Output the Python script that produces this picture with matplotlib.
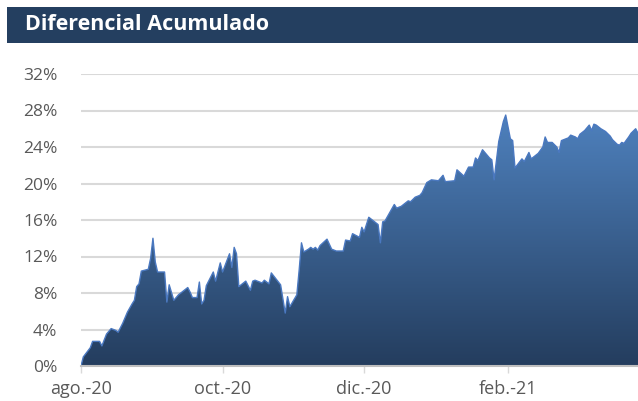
import numpy as np
import pandas as pd
import matplotlib
matplotlib.use('Agg')
import matplotlib.pyplot as plt
from matplotlib.patches import Rectangle
from matplotlib.colors import LinearSegmentedColormap

# dias desde el 1 de agosto de 2020
dias = [0, 1, 4, 5, 8, 9, 11, 13, 15, 16, 18, 20, 22, 23, 24, 25, 26, 29, 30, 31,
        32, 33, 36, 37, 38, 40, 42, 46, 47, 48, 50, 51, 52, 53, 54, 57, 58, 60, 61, 64,
        65, 66, 67, 68, 71, 73, 74, 75, 78, 79, 81, 82, 86, 88, 89, 90, 93, 94, 95, 96,
        98, 99, 100, 101, 102, 103, 106, 108, 110, 113, 114, 116, 117, 120, 121, 122, 124, 128, 129, 130,
        131, 133, 135, 136, 138, 141, 142, 144, 146, 147, 149, 151, 154, 156, 157, 161, 162, 165, 167, 169,
        170, 171, 173, 176, 177, 178, 180, 182, 183, 185, 186, 187, 190, 191, 193, 194, 197, 199, 200, 201,
        203, 205, 206, 207, 210, 211, 213, 214, 215, 217, 219, 220, 221, 222, 224, 226, 228, 229, 231, 232,
        233, 234, 236, 237, 239, 240]

diferencial = [0.0, 1.0, 2.0, 2.7, 2.7, 2.2, 3.5, 4.1, 3.9, 3.7, 4.7, 5.9, 6.8, 7.2, 8.7, 9.0, 10.4, 10.6, 11.8, 14.0,
               11.4, 10.3, 10.3, 7.0, 8.9, 7.2, 7.8, 8.6, 8.1, 7.5, 7.5, 9.2, 6.8, 7.2, 8.8, 10.3, 9.3, 11.3, 10.3, 12.3,
               10.8, 13.0, 12.3, 8.7, 9.3, 8.3, 9.3, 9.4, 9.1, 9.4, 9.0, 10.2, 8.9, 5.8, 7.6, 6.5, 7.8, 10.5, 13.5, 12.5,
               12.8, 13.0, 12.8, 13.0, 12.7, 13.2, 13.9, 12.8, 12.6, 12.6, 13.8, 13.7, 14.5, 14.1, 15.2, 14.7, 16.3, 15.5, 13.5, 15.8,
               15.9, 16.8, 17.7, 17.3, 17.5, 18.1, 18.0, 18.5, 18.7, 19.0, 20.1, 20.4, 20.3, 20.9, 20.2, 20.3, 21.5, 20.8, 21.8, 21.8,
               22.8, 22.5, 23.7, 22.8, 22.6, 20.4, 24.6, 26.8, 27.5, 24.9, 24.7, 21.7, 22.7, 22.4, 23.4, 22.7, 23.3, 24.0, 25.1, 24.5,
               24.5, 24.0, 23.4, 24.7, 25.0, 25.3, 25.1, 24.9, 25.4, 25.8, 26.4, 25.8, 26.5, 26.4, 26.0, 25.7, 25.2, 24.8, 24.3, 24.2,
               24.5, 24.4, 25.1, 25.5, 26.0, 25.5]

tick_fechas = ['2020-08-01', '2020-10-01', '2020-12-01', '2021-02-01']
tick_labels = ['ago.-20', 'oct.-20', 'dic.-20', 'feb.-21']
y_ticks = [0, 4, 8, 12, 16, 20, 24, 28, 32]

fechas = pd.Timestamp('2020-08-01') + pd.to_timedelta(dias, unit='D')
x = matplotlib.dates.date2num(fechas)
y = np.array(diferencial)

fig = plt.figure(figsize=(6.38, 4.01), dpi=100)
fig.patch.set_facecolor('white')

# barra de titulo
fig.patches.append(Rectangle((7 / 638, 1 - 43 / 401), 631 / 638, 36 / 401,
                             transform=fig.transFigure, facecolor='#243F60',
                             edgecolor='none', zorder=0))
fig.text(25 / 638, 1 - 25 / 401, 'Diferencial Acumulado', color='white',
         fontsize=15.5, fontweight='bold', family='Open Sans', va='center', ha='left')

ax = fig.add_axes([81 / 638, 35 / 401, 557 / 638, 292 / 401])
ax.set_xlim(x[0], x[-1])
ax.set_ylim(0, 32)

# relleno con degradado vertical
poly = ax.fill_between(x, 0, y, facecolor='none', edgecolor='none')
cmap = LinearSegmentedColormap.from_list('azul', ['#243D5E', '#4F82BF'])
grad = np.linspace(0, 1, 256).reshape(-1, 1)
img = ax.imshow(grad, cmap=cmap, origin='lower', aspect='auto',
                extent=[x[0], x[-1], 0, 28], zorder=2)
clip = poly.get_paths()[0]
img.set_clip_path(clip, transform=ax.transData)
ax.plot(x, y, color='#4A78C0', lw=1.0, zorder=3)

ax.set_yticks(y_ticks)
ax.set_yticklabels([f'{v}%' for v in y_ticks])
ax.set_xticks(matplotlib.dates.date2num(pd.to_datetime(tick_fechas)))
ax.set_xticklabels(tick_labels)

ax.grid(axis='y', color='#D9D9D9', lw=1.5, zorder=1)
ax.set_axisbelow(True)
for s in ['top', 'right', 'left']:
    ax.spines[s].set_visible(False)
ax.spines['bottom'].set_color('#BFBFBF')
ax.spines['bottom'].set_linewidth(1.5)
ax.spines['bottom'].set_zorder(4)

ax.tick_params(axis='y', length=0, pad=17, labelsize=12.5, labelcolor='#595959')
ax.tick_params(axis='x', length=5, width=1, color='#D9D9D9', pad=5,
               labelsize=13, labelcolor='#595959')
for lab in ax.get_xticklabels() + ax.get_yticklabels():
    lab.set_family('Open Sans')

fig.savefig('out.png', dpi=100)
